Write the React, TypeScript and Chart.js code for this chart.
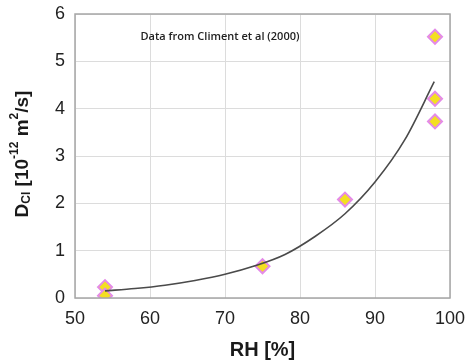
import React, { useEffect, useRef } from "react";
import { Chart, registerables } from "chart.js";

Chart.register(...registerables);

// Measured data (Climent et al 2000)
const rhPoints = [54, 54, 75, 86, 98, 98, 98];
const dclPoints = [0.23, 0.05, 0.67, 2.08, 5.52, 4.21, 3.73];

// Fitted trend curve
const fitRH = [54, 58, 62, 66, 70, 74, 78, 82, 86, 90, 94, 97.9];
const fitDcl = [0.15, 0.2, 0.27, 0.37, 0.5, 0.68, 0.92, 1.3, 1.78, 2.45, 3.35, 4.57];

const xTicks = [50, 60, 70, 80, 90, 100];
const yTicks = [0, 1, 2, 3, 4, 5, 6];
const annotationText = "Data from Climent et al (2000)";

const FONT = "'Liberation Sans', Arial, sans-serif";

const overlayPlugin = {
  id: "overlay",
  afterDraw(chart: any) {
    const { ctx, chartArea } = chart;
    ctx.save();
    // plot border
    ctx.strokeStyle = "#a6a6a6";
    ctx.lineWidth = 1.5;
    ctx.strokeRect(chartArea.left, chartArea.top, chartArea.right - chartArea.left, chartArea.bottom - chartArea.top);

    // annotation
    ctx.fillStyle = "#222";
    ctx.font = `600 11px 'Open Sans', ${FONT}`;
    ctx.textAlign = "center";
    ctx.textBaseline = "middle";
    ctx.fillText(annotationText, 220, 37);

    // y title with sub/superscripts
    const segs: { t: string; size: number; dy: number }[] = [
      { t: "D", size: 19, dy: 0 },
      { t: "Cl", size: 12, dy: 4 },
      { t: " [10", size: 19, dy: 0 },
      { t: "-12", size: 12, dy: -8 },
      { t: " m", size: 19, dy: 0 },
      { t: "2", size: 12, dy: -8 },
      { t: "/s]", size: 19, dy: 0 },
    ];
    let total = 0;
    const widths = segs.map((s) => {
      ctx.font = `bold ${s.size}px ${FONT}`;
      const w = ctx.measureText(s.t).width;
      total += w;
      return w;
    });
    const cx = 22;
    const cy = 154;
    ctx.translate(cx, cy);
    ctx.rotate(-Math.PI / 2);
    ctx.textAlign = "left";
    ctx.textBaseline = "middle";
    ctx.fillStyle = "#1a1a1a";
    let x = -total / 2;
    segs.forEach((s, i) => {
      ctx.font = `bold ${s.size}px ${FONT}`;
      ctx.fillText(s.t, x, s.dy + 1);
      x += widths[i];
    });
    ctx.restore();
  },
};

export default function App() {
  const ref = useRef<HTMLCanvasElement | null>(null);
  useEffect(() => {
    if (!ref.current) return;
    const chart = new Chart(ref.current, {
      type: "scatter",
      data: {
        datasets: [
          {
            label: "Measured",
            data: rhPoints.map((x, i) => ({ x, y: dclPoints[i] })),
            pointStyle: "rectRot",
            pointRadius: 7,
            pointBackgroundColor: "#f3df22",
            pointBorderColor: "#e48ae8",
            pointBorderWidth: 2,
            showLine: false,
            order: 2,
          },
          {
            label: "Fit",
            data: fitRH.map((x, i) => ({ x, y: fitDcl[i] })),
            showLine: true,
            borderColor: "#4a4a4a",
            borderWidth: 1.6,
            pointRadius: 0,
            cubicInterpolationMode: "monotone",
            order: 1,
          },
        ],
      },
      options: {
        responsive: false,
        animation: false,
        layout: { padding: { top: 14, right: 21, left: 0, bottom: 0 } },
        plugins: { legend: { display: false }, tooltip: { enabled: false } },
        scales: {
          x: {
            type: "linear",
            min: 50,
            max: 100,
            afterBuildTicks: (s: any) => {
              s.ticks = xTicks.map((v) => ({ value: v }));
            },
            afterFit: (s: any) => {
              s.height = 65;
              s.paddingLeft = 0;
              s.paddingRight = 0;
            },
            grid: { color: "#dcdcdc", lineWidth: 1, drawTicks: false },
            border: { display: false },
            ticks: { color: "#222", font: { family: FONT, size: 18 }, padding: 10 },
            title: {
              display: true,
              text: "RH [%]",
              color: "#1a1a1a",
              font: { family: FONT, size: 20, weight: "bold" },
              padding: { top: 0, bottom: 1 },
            },
          },
          y: {
            type: "linear",
            min: 0,
            max: 6,
            afterBuildTicks: (s: any) => {
              s.ticks = yTicks.map((v) => ({ value: v }));
            },
            afterFit: (s: any) => {
              s.width = 75;
              s.paddingTop = 0;
              s.paddingBottom = 0;
            },
            grid: { color: "#dcdcdc", lineWidth: 1, drawTicks: false },
            border: { display: false },
            ticks: { color: "#222", font: { family: FONT, size: 18 }, padding: 10 },
          },
        },
      },
      plugins: [overlayPlugin],
    } as any);
    return () => chart.destroy();
  }, []);
  return (
    <div style={{ position: "fixed", left: 0, top: 0, width: 471, height: 363, background: "#fff" }}>
      <canvas ref={ref} width={471} height={363} style={{ width: 471, height: 363 }} />
    </div>
  );
}
